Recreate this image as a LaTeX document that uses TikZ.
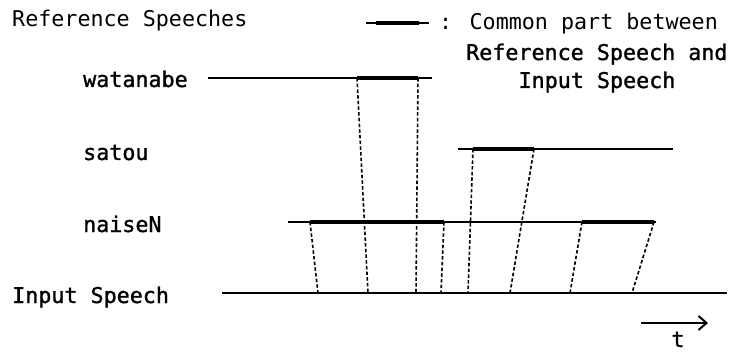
\documentclass[tikz,border=0pt]{standalone}
\usepackage{fontspec}
\setmainfont{DejaVu Sans Mono}
\newfontfamily\monodark[FakeBold=1.3]{DejaVu Sans Mono}
\usetikzlibrary{arrows.meta}
\tikzset{
  lbl/.style={inner sep=0pt, anchor=base west, font=\fontsize{21.7}{24}\selectfont},
  lbld/.style={lbl, font=\monodark\fontsize{21.7}{24}\selectfont},
  track/.style={line width=1.9pt},
  common/.style={line width=4.2pt},
  link/.style={line width=1.6pt, dash pattern=on 3.5pt off 2.2pt},
}
\begin{document}
\begin{tikzpicture}[x=1pt,y=-1pt]
\useasboundingbox (0,0) rectangle (732,353);

% titles and labels
\node[lbl]  (title) at (12,27)  {Reference Speeches};
\node[lbld] (lw)    at (83,87)  {watanabe};
\node[lbld] (ls)    at (83,160) {satou};
\node[lbld] (ln)    at (83,232) {naiseN};
\node[lbld] (li)    at (12,303) {Input Speech};

% legend
\coordinate (g1) at (366,23);  \coordinate (g2) at (429,23);
\coordinate (g3) at (376,23);  \coordinate (g4) at (419,23);
\draw[track]  (g1) -- (g2);
\draw[common] (g3) -- (g4);
\node[lbl]  (lg1) at (439,30) {: Common part between};
\node[lbld] (lg2) at (466,60) {Reference Speech and};
\node[lbld, anchor=base] (lg3) at (597,88) {Input Speech};

% speech tracks
\coordinate (w0) at (208,78);  \coordinate (w1) at (432,78);
\coordinate (wa) at (357,78);  \coordinate (wb) at (418,78);
\coordinate (s0) at (458,149); \coordinate (s1) at (673,149);
\coordinate (sa) at (473,149); \coordinate (sb) at (534,149);
\coordinate (n0) at (288,222); \coordinate (n1) at (656,222);
\coordinate (na) at (310,222); \coordinate (nb) at (444,222);
\coordinate (nc) at (582,222); \coordinate (nd) at (654,222);
\coordinate (i0) at (222,293); \coordinate (i1) at (727,293);

\draw[track] (w0) -- (w1);
\draw[track] (s0) -- (s1);
\draw[track] (n0) -- (n1);
\draw[track] (i0) -- (i1);

\draw[common] (wa) -- (wb);
\draw[common] (sa) -- (sb);
\draw[common] (na) -- (nb);
\draw[common] (nc) -- (nd);

% matching points on the input speech
\coordinate (p1) at (318,293);
\coordinate (p2) at (368,293);
\coordinate (p3) at (416,293);
\coordinate (p4) at (441,293);
\coordinate (p5) at (468,293);
\coordinate (p6) at (510,293);
\coordinate (p7) at (570,293);
\coordinate (p8) at (632,293);

\draw[link] (na) -- (p1);
\draw[link] (wa) -- (p2);
\draw[link] (wb) -- (p3);
\draw[link] (nb) -- (p4);
\draw[link] (sa) -- (p5);
\draw[link] (sb) -- (p6);
\draw[link] (nc) -- (p7);
\draw[link] (nd) -- (p8);

% time axis
\coordinate (t0) at (641,323); \coordinate (t1) at (708,323);
\draw[line width=2pt, -{Straight Barb[length=8pt,width=14pt]}] (t0) -- (t1);
\node[lbld, anchor=base] (lt) at (678,347) {t};
\end{tikzpicture}
\end{document}
